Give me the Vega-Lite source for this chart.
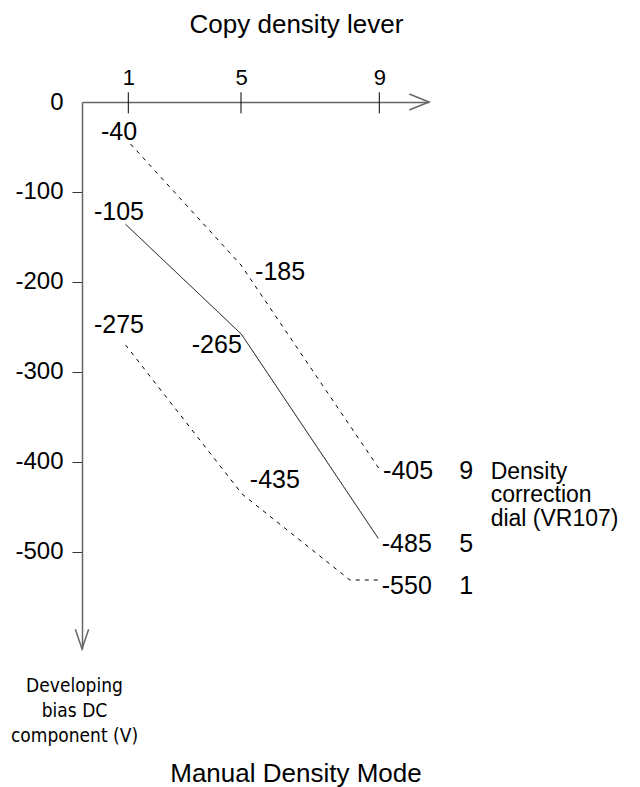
{
  "$schema": "https://vega.github.io/schema/vega-lite/v6.json",
  "width": 347,
  "height": 547,
  "autosize": {"type": "none"},
  "padding": {"left": 82, "top": 102, "right": 211, "bottom": 138},
  "background": "white",
  "config": {"view": {"stroke": null}, "font": "Liberation Sans"},
  "datasets": {
    "lines": [
      {"series": "top", "o": 0, "x": 1.08, "y": -46.7},
      {"series": "top", "o": 1, "x": 5, "y": -181.2},
      {"series": "top", "o": 2, "x": 9.02, "y": -409},
      {"series": "mid", "o": 0, "x": 0.94, "y": -135.9},
      {"series": "mid", "o": 1, "x": 5.01, "y": -258},
      {"series": "mid", "o": 2, "x": 8.97, "y": -485},
      {"series": "bottom", "o": 0, "x": 0.94, "y": -270},
      {"series": "bottom", "o": 1, "x": 5.03, "y": -435.7},
      {"series": "bottom", "o": 2, "x": 8.15, "y": -531.3},
      {"series": "bottom", "o": 3, "x": 9.02, "y": -531.3}
    ],
    "ticks": [
      {"x": 1, "y": 10.8, "y2": -12.6},
      {"x": 5, "y": 10.8, "y2": -12.6},
      {"x": 9, "y": 10.8, "y2": -12.6}
    ],
    "arrows": [
      {"g": "xa", "o": 0, "x": 9.906, "y": 8.9},
      {"g": "xa", "o": 1, "x": 10.5, "y": 0},
      {"g": "xa", "o": 2, "x": 9.906, "y": -8.9},
      {"g": "ya", "o": 0, "x": -0.144, "y": -586.1},
      {"g": "ya", "o": 1, "x": 0, "y": -608},
      {"g": "ya", "o": 2, "x": 0.144, "y": -586.1}
    ],
    "labels": [
      {"x": 0.799, "y": -33.9, "text": "-40"},
      {"x": 0.799, "y": -121.9, "text": "-105"},
      {"x": 0.799, "y": -247.5, "text": "-275"},
      {"x": 6.13, "y": -189, "text": "-185"},
      {"x": 4.14, "y": -269.8, "text": "-265"},
      {"x": 5.98, "y": -420.6, "text": "-435"},
      {"x": 9.87, "y": -410, "text": "-405"},
      {"x": 9.83, "y": -491.3, "text": "-485"},
      {"x": 9.83, "y": -538.2, "text": "-550"},
      {"x": 11.62, "y": -410, "text": "9"},
      {"x": 11.62, "y": -491.3, "text": "5"},
      {"x": 11.62, "y": -538.2, "text": "1"}
    ],
    "note": [
      {"x": 12.36, "y": -410.9, "text": ["Density", "correction", "dial (VR107)"]}
    ],
    "caption": [
      {"x": 6.59, "y": -746.9, "text": "Manual Density Mode"}
    ]
  },
  "encoding": {
    "x": {
      "field": "x",
      "type": "quantitative",
      "scale": {"domain": [0, 1, 5, 9, 10.5], "range": [0, 46.3, 159, 297.3, 347], "nice": false, "zero": false},
      "axis": {
        "orient": "top",
        "values": [1, 5, 9],
        "ticks": false,
        "tickSize": 0,
        "grid": false,
        "domainColor": "#666666",
        "domainWidth": 1.5,
        "labelFontSize": 22,
        "labelColor": "black",
        "labelBaseline": "alphabetic",
        "labelPadding": 17.7,
        "labelFlush": false,
        "labelOverlap": false,
        "title": "Copy density lever",
        "titleFontSize": 26,
        "titleFontWeight": "normal",
        "titleColor": "black",
        "titleX": 214,
        "titleY": -78,
        "titleAlign": "center",
        "titleBaseline": "middle"
      }
    },
    "y": {
      "field": "y",
      "type": "quantitative",
      "scale": {"domain": [-608, 0], "nice": false, "zero": false},
      "axis": {
        "orient": "left",
        "values": [0, -100, -200, -300, -400, -500],
        "labelExpr": "datum.value + ''",
        "tickSize": 10,
        "tickColor": "#333333",
        "tickOpacity": {"condition": {"test": "datum.value === 0", "value": 0}, "value": 1},
        "grid": false,
        "domainColor": "#666666",
        "domainWidth": 1.5,
        "labelFontSize": 24,
        "labelColor": "black",
        "labelPadding": 9,
        "labelBaseline": "middle",
        "labelFlush": false,
        "labelOverlap": false,
        "title": ["Developing", "bias DC", "component (V)"],
        "titleAngle": 0,
        "titleX": -8,
        "titleY": 583,
        "titleAlign": "center",
        "titleBaseline": "middle",
        "titleFont": "DejaVu Sans Condensed, Liberation Sans",
        "titleFontSize": 19,
        "titleFontWeight": "normal",
        "titleColor": "black",
        "titleLineHeight": 25
      }
    }
  },
  "layer": [
    {
      "data": {"name": "lines"},
      "mark": {"type": "line", "color": "black", "strokeWidth": 1},
      "encoding": {
        "detail": {"field": "series"},
        "order": {"field": "o", "type": "quantitative"},
        "strokeDash": {
          "field": "series",
          "type": "nominal",
          "scale": {"domain": ["top", "mid", "bottom"], "range": [[4, 5], [1, 0], [4, 5]]},
          "legend": null
        }
      }
    },
    {
      "data": {"name": "ticks"},
      "mark": {"type": "rule", "color": "black", "strokeWidth": 1},
      "encoding": {"y2": {"field": "y2"}}
    },
    {
      "data": {"name": "arrows"},
      "mark": {"type": "line", "color": "#666666", "strokeWidth": 1.5},
      "encoding": {
        "detail": {"field": "g"},
        "order": {"field": "o", "type": "quantitative"}
      }
    },
    {
      "data": {"name": "labels"},
      "mark": {"type": "text", "fontSize": 25, "align": "center", "baseline": "middle", "color": "black"},
      "encoding": {"text": {"field": "text"}}
    },
    {
      "data": {"name": "note"},
      "mark": {"type": "text", "fontSize": 23, "align": "left", "baseline": "middle", "lineHeight": 23.5, "color": "black"},
      "encoding": {"text": {"field": "text"}}
    },
    {
      "data": {"name": "caption"},
      "mark": {"type": "text", "fontSize": 26, "align": "center", "baseline": "middle", "color": "black"},
      "encoding": {"text": {"field": "text"}}
    }
  ]
}
